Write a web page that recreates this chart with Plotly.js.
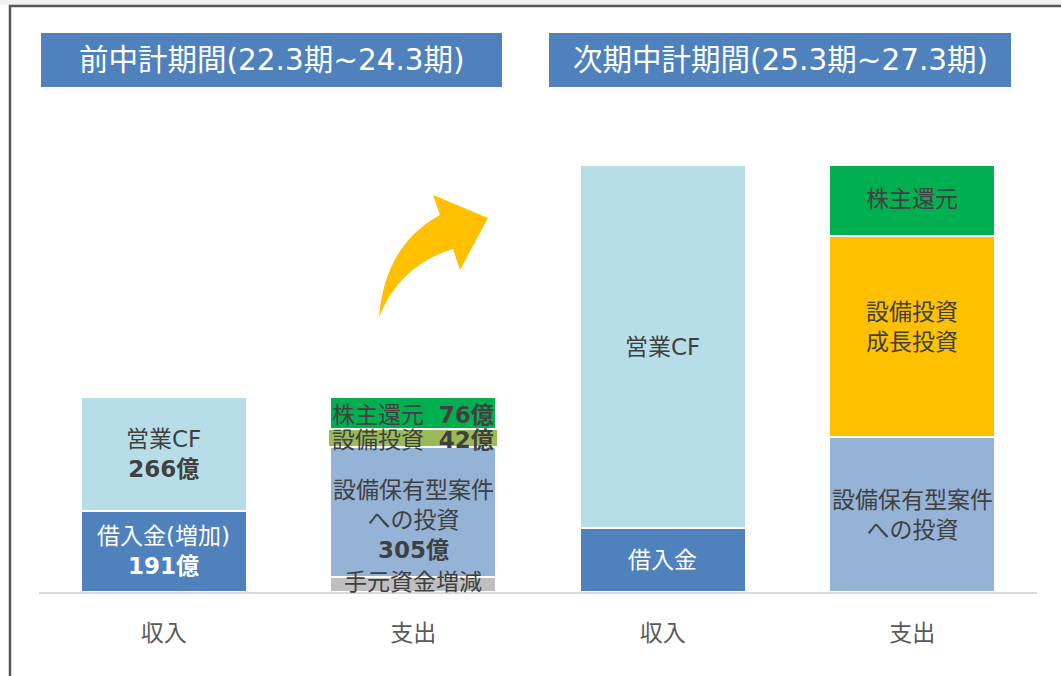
<!DOCTYPE html>
<html>
<head>
<meta charset="utf-8">
<script src="https://cdn.plot.ly/plotly-3.0.1.min.js"></script>
<style>html,body{margin:0;padding:0;background:#fff;}#chart{width:1061px;height:676px;}</style>
</head>
<body>
<div id="chart"></div>
<script>
// ---- data ----
const categories = ['収入', '支出', '収入', '支出'];
const periods = ['前中計期間(22.3期~24.3期)', '次期中計期間(25.3期~27.3期)'];
const seriesNames = ['借入金', '営業CF', '手元資金増減', '設備保有型案件への投資', '設備投資', '設備投資成長投資', '株主還元'];
const borrowing      = [191, null, 150, null];
const operatingCF    = [266, null, 850, null];
const cashChange     = [null, 34, null, null];
const assetInvest    = [null, 305, null, 363];
const capex          = [null, 42, null, null];
const growthInvest   = [null, null, null, 471];
const shareholder    = [null, 76, null, 166];
const borrowingLbl   = ['借入金(増加)', null, '借入金', null];
const operatingLbl   = ['営業CF', null, '営業CF', null];
const cashLbl        = [null, '手元資金増減', null, null];
const assetLbl       = [null, '設備保有型案件<br>への投資', null, '設備保有型案件<br>への投資'];
const capexLbl       = [null, '設備投資', null, null];
const growthLbl      = [null, null, null, '設備投資<br>成長投資'];
const shareLbl       = [null, '株主還元', null, '株主還元'];
const valueShown     = [true, true, false, false]; // categories whose values are printed

// ---- styles ----
const FONT = '"DejaVu Sans", "Noto Sans CJK JP", sans-serif';
const TXT = '#404040';
const series = [
  {name: seriesNames[0], y: borrowing,    lbl: borrowingLbl, color: '#4F81BD', tcolor: '#FFFFFF', width: 0.665, inline: false, shift: [0,0,0,0]},
  {name: seriesNames[1], y: operatingCF,  lbl: operatingLbl, color: '#B7DEE8', tcolor: TXT, width: 0.665, inline: false, shift: [0,0,0,0]},
  {name: seriesNames[2], y: cashChange,   lbl: cashLbl,      color: '#BFBFBF', tcolor: TXT, width: 0.665, inline: false, shift: [0,3,0,0], noval: true},
  {name: seriesNames[3], y: assetInvest,  lbl: assetLbl,     color: '#95B3D7', tcolor: TXT, width: 0.665, inline: false, shift: [0,-8,0,0]},
  {name: seriesNames[4], y: capex,        lbl: capexLbl,     color: '#9BBB59', tcolor: TXT, width: 0.68,  inline: true,  shift: [0,-2,0,0]},
  {name: seriesNames[5], y: growthInvest, lbl: growthLbl,    color: '#FFC000', tcolor: TXT, width: 0.665, inline: false, shift: [0,0,0,10]},
  {name: seriesNames[6], y: shareholder,  lbl: shareLbl,     color: '#00B050', tcolor: TXT, width: 0.665, inline: true,  shift: [0,-2,0,2]}
];
const xIdx = categories.map((c, i) => i);

const traces = series.map(s => ({
  type: 'bar', x: xIdx, y: s.y, name: s.name, width: s.width,
  marker: {color: s.color, line: {color: '#FFFFFF', width: 2}},
  hoverinfo: 'skip'
}));

// labels placed at segment midpoints computed from the data
const annotations = [];
const base = [0, 0, 0, 0];
series.forEach(s => {
  s.y.forEach((v, i) => {
    if (v == null) return;
    const mid = base[i] + v / 2;
    base[i] += v;
    if (!s.lbl[i]) return;
    let text = s.lbl[i];
    if (valueShown[i] && !s.noval) {
      text += (s.inline ? '  ' : '<br>') + '<b>' + v + '億</b>';
    }
    annotations.push({
      x: i, y: mid, xref: 'x', yref: 'y', text: text, showarrow: false,
      yshift: s.shift[i], align: 'center', xanchor: 'center', yanchor: 'middle',
      font: {family: FONT, size: 23, color: s.tcolor}
    });
  });
});

// pixel -> paper helpers (plot area: x 39..1037, y 100..592)
const L = 39, R = 1037, T = 100, B = 592;
const px = x => (x - L) / (R - L);
const py = y => (B - y) / (B - T);

// period header boxes
const shapes = [];
const headerBoxes = [[41, 502], [549, 1011]];
headerBoxes.forEach((hb, k) => {
  shapes.push({type: 'rect', xref: 'paper', yref: 'paper', x0: px(hb[0]), x1: px(hb[1]), y0: py(87), y1: py(33),
    fillcolor: '#4F81BD', line: {width: 0}, layer: 'above'});
  annotations.push({xref: 'paper', yref: 'paper', x: px((hb[0] + hb[1]) / 2), y: py(60), text: periods[k],
    showarrow: false, xanchor: 'center', yanchor: 'middle', font: {family: FONT, size: 29.5, color: '#FFFFFF'}});
});

// outer frame
shapes.push({type: 'rect', xref: 'paper', yref: 'paper', x0: px(0), x1: px(1061), y0: py(0), y1: py(5),
  fillcolor: '#F0F0F0', line: {width: 0}, layer: 'below'});
shapes.push({type: 'rect', xref: 'paper', yref: 'paper', x0: px(10), x1: px(1200), y0: py(800), y1: py(6),
  fillcolor: 'rgba(0,0,0,0)', line: {color: '#595959', width: 2.5}, layer: 'above'});

// curved yellow arrow (decoration)
const P = (x, y) => px(x).toFixed(5) + ',' + py(y).toFixed(5);
const arrowPath = 'M ' + P(379, 317) + ' Q ' + P(385, 245) + ' ' + P(440, 215) +
  ' L ' + P(433, 195) + ' L ' + P(488, 218) + ' L ' + P(460, 270) + ' L ' + P(453, 249) +
  ' Q ' + P(400, 265) + ' ' + P(379, 317) + ' Z';
shapes.push({type: 'path', xref: 'paper', yref: 'paper', path: arrowPath,
  fillcolor: '#FFC000', line: {width: 0}, layer: 'above'});

const layout = {
  width: 1061, height: 676,
  margin: {l: L, r: 1061 - R, t: T, b: 676 - B, pad: 0},
  paper_bgcolor: '#FFFFFF', plot_bgcolor: '#FFFFFF',
  barmode: 'stack', showlegend: false,
  xaxis: {
    range: [-0.5, 3.5], tickmode: 'array', tickvals: xIdx, ticktext: categories,
    showgrid: false, zeroline: false, showline: true, linecolor: '#D9D9D9', linewidth: 2,
    ticks: 'outside', ticklen: 19, tickcolor: 'rgba(0,0,0,0)',
    tickfont: {family: FONT, size: 23, color: '#595959'}, fixedrange: true
  },
  yaxis: {range: [0, 1153], visible: false, showgrid: false, zeroline: false, fixedrange: true},
  annotations: annotations,
  shapes: shapes,
  font: {family: FONT}
};

Plotly.newPlot('chart', traces, layout, {displayModeBar: false, staticPlot: true});
</script>
</body>
</html>
